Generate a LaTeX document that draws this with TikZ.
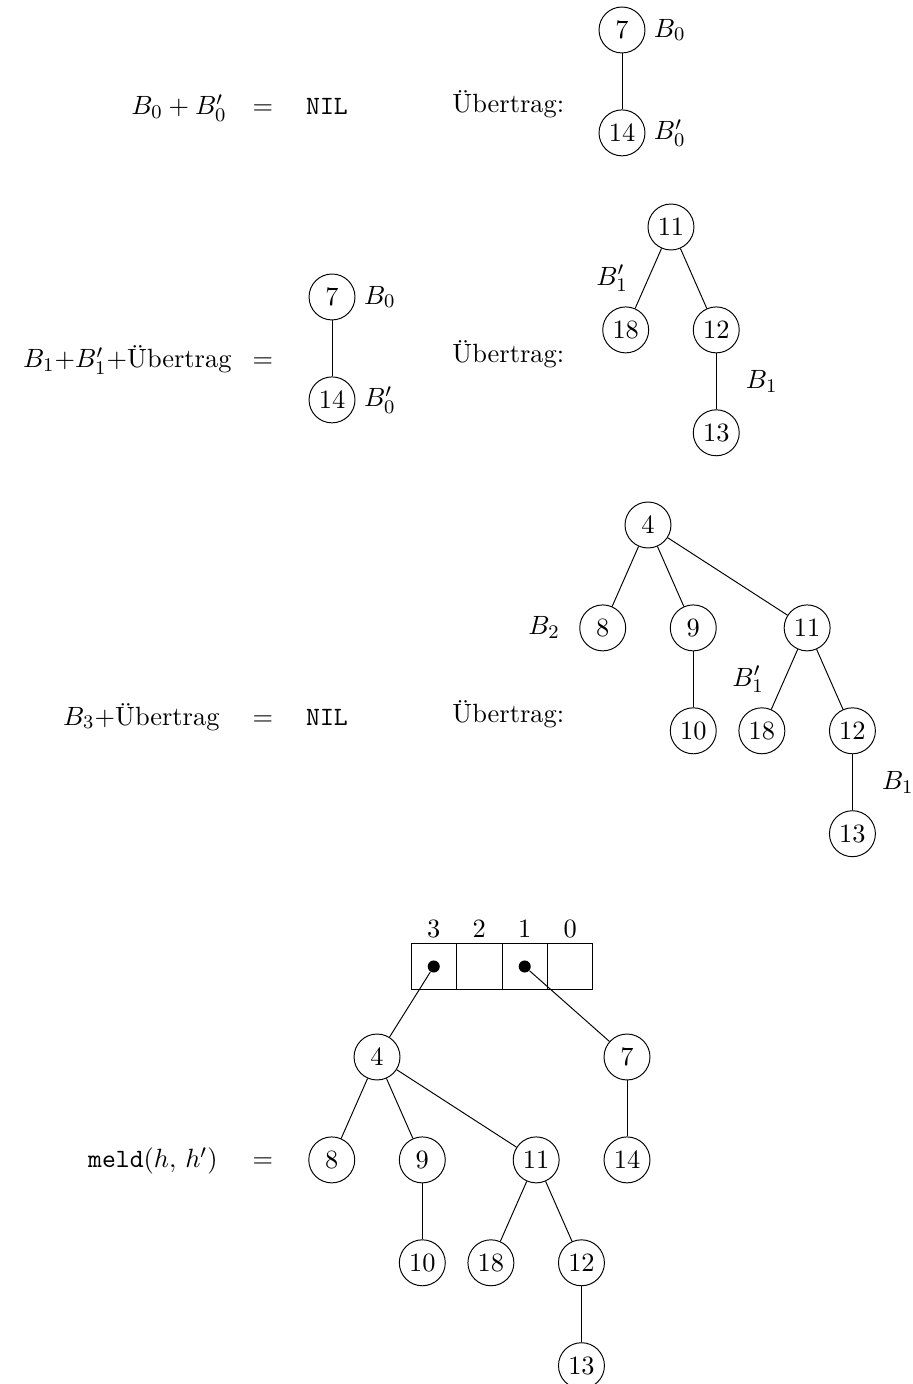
\documentclass[tikz,border=0pt]{standalone}
\usetikzlibrary{positioning}

\begin{document}
\begin{tikzpicture}[font=\fontsize{10.95}{13.6}\selectfont,
	hnode/.style={circle,draw,inner sep=1pt,minimum size=.67cm,on grid},
	term/.style={inner sep=0pt},
	cell/.style={draw,minimum size=.663cm,inner sep=0pt,outer sep=0pt},
	ptr/.style={circle,fill,inner sep=0pt,minimum size=5pt}]
	\useasboundingbox (0,0) rectangle (13.309,-20.175);

	% B_0 + B_0'
	\node [term,anchor=base east] at (3.309,-1.676) (sum0_txt) {$B_0 + B_0'$};
	\node [term,anchor=base] at (3.834,-1.676) (eq0) {$=$};
	\node [term,anchor=base] at (4.767,-1.676) (nil0) {\texttt{NIL}};
	\node [term,anchor=base west] at (6.589,-1.647) (carry0_txt) {Übertrag:};
	\node [hnode] at (9.067,-0.437) (t0_7) {7};
	\node [hnode,below=1.5cm of t0_7] (t0_14) {14};
	\node [right=0pt of t0_7] (t0_b0) {$B_0$};
	\node [right=0pt of t0_14] (t0_b0p) {$B_0'$};
	\draw (t0_7) -- (t0_14);

	% B_1 + B_1' + carry
	\node [term,anchor=base east] at (3.382,-5.364) (sum1_txt) {$B_1{+}B_1'{+}$Übertrag};
	\node [term,anchor=base] at (3.834,-5.364) (eq1) {$=$};
	\node [hnode] at (4.840,-4.329) (t1_7) {7};
	\node [hnode,below=1.5cm of t1_7] (t1_14) {14};
	\node [right=0pt of t1_7] (t1_b0) {$B_0$};
	\node [right=0pt of t1_14] (t1_b0p) {$B_0'$};
	\draw (t1_7) -- (t1_14);
	\node [term,anchor=base west] at (6.589,-5.277) (carry1_txt) {Übertrag:};
	\node [hnode] at (9.781,-3.309) (t1_11) {11};
	\node [hnode,below left=1.5cm and .66cm of t1_11] (t1_18) {18};
	\node [hnode,below right=1.5cm and .66cm of t1_11] (t1_12) {12};
	\node [hnode,below=1.5cm of t1_12] (t1_13) {13};
	\draw (t1_11) -- node [left=5pt] {$B_1'$} (t1_18);
	\draw (t1_11) -- (t1_12);
	\draw (t1_12) -- node [right=8.8pt] {$B_1$} (t1_13);

	% B_3 + carry
	\node [term,anchor=base east] at (3.207,-10.569) (sum3_txt) {$B_3{+}$Übertrag};
	\node [term,anchor=base] at (3.834,-10.569) (eq3) {$=$};
	\node [term,anchor=base] at (4.767,-10.569) (nil3) {\texttt{NIL}};
	\node [term,anchor=base west] at (6.589,-10.539) (carry3_txt) {Übertrag:};
	\node [hnode] at (9.446,-7.653) (t3_4) {4};
	\node [hnode,below left=1.5cm and .66cm of t3_4] (t3_8) {8};
	\node [hnode,below right=1.5cm and .66cm of t3_4] (t3_9) {9};
	\node [hnode,below right=1.5cm and 2.32cm of t3_4] (t3_11) {11};
	\node [hnode,below=1.5cm of t3_9] (t3_10) {10};
	\node [hnode,below left=1.5cm and .66cm of t3_11] (t3_18) {18};
	\node [hnode,below right=1.5cm and .66cm of t3_11] (t3_12) {12};
	\node [hnode,below=1.5cm of t3_12] (t3_13) {13};
	\node [left=4.5pt of t3_8] (t3_b2) {$B_2$};
	\draw (t3_4) -- (t3_8);
	\draw (t3_4) -- (t3_9);
	\draw (t3_4) -- (t3_11);
	\draw (t3_9) -- (t3_10);
	\draw (t3_11) -- node [left=5pt] {$B_1'$} (t3_18);
	\draw (t3_11) -- (t3_12);
	\draw (t3_12) -- node [right=8.8pt] {$B_1$} (t3_13);

	% meld(h, h')
	\node [term,anchor=base east] at (3.178,-17.026) (meld_txt) {\texttt{meld}$(h,\,h')$};
	\node [term,anchor=base] at (3.834,-17.026) (eq4) {$=$};
	\node [cell] at (6.323,-14.089) (c3) {};
	\node [cell,right=0cm of c3] (c2) {};
	\node [cell,right=0cm of c2] (c1) {};
	\node [cell,right=0cm of c1] (c0) {};
	\foreach \i in {3,2,1,0}
		\node [above=-1pt of c\i] (c\i_txt) {\i};
	\node [ptr] at (c3.center) (d3) {};
	\node [ptr] at (c1.center) (d1) {};
	\node [hnode] at (5.496,-15.408) (m_4) {4};
	\node [hnode,right=3.644cm of m_4] (m_7) {7};
	\node [hnode,below=1.5cm of m_7] (m_14) {14};
	\node [hnode,below left=1.5cm and .66cm of m_4] (m_8) {8};
	\node [hnode,below right=1.5cm and .66cm of m_4] (m_9) {9};
	\node [hnode,below right=1.5cm and 2.32cm of m_4] (m_11) {11};
	\node [hnode,below=1.5cm of m_9] (m_10) {10};
	\node [hnode,below left=1.5cm and .66cm of m_11] (m_18) {18};
	\node [hnode,below right=1.5cm and .66cm of m_11] (m_12) {12};
	\node [hnode,below=1.5cm of m_12] (m_13) {13};
	\draw (d3) -- (m_4);
	\draw (d1) -- (m_7);
	\draw (m_7) -- (m_14);
	\draw (m_4) -- (m_8);
	\draw (m_4) -- (m_9);
	\draw (m_4) -- (m_11);
	\draw (m_9) -- (m_10);
	\draw (m_11) -- (m_18);
	\draw (m_11) -- (m_12);
	\draw (m_12) -- (m_13);
\end{tikzpicture}
\end{document}
